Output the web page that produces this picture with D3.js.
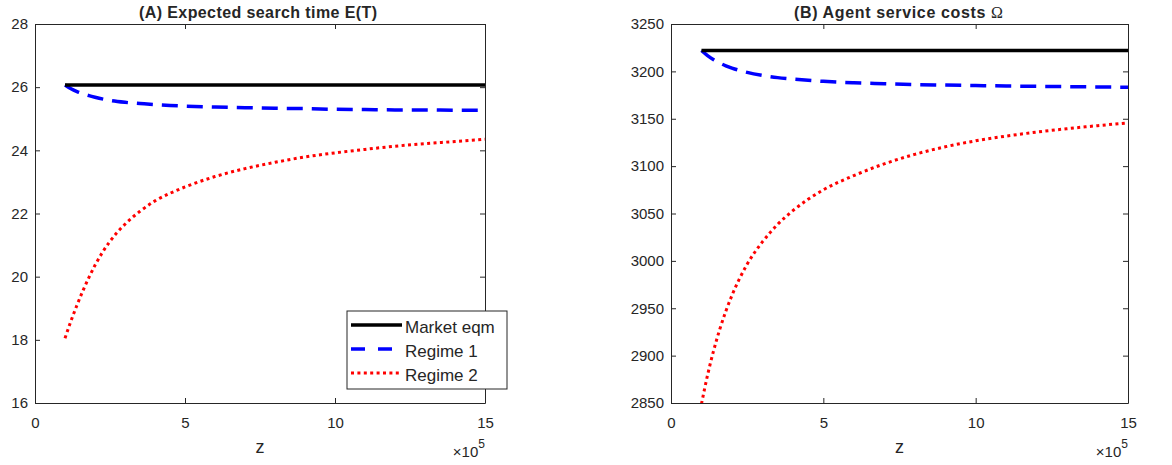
<!DOCTYPE html>
<html lang="en">
<head>
<meta charset="UTF-8">
<title>Search time and service costs</title>
<script src="https://d3js.org/d3.v7.min.js"></script>
<style>
  body { margin: 0; background: #fff; }
  svg text { font-family: "Liberation Sans", Arial, sans-serif; fill: #262626; }
</style>
</head>
<body>
<svg id="chart" width="1172" height="465"></svg>
<script>
// z in units of 10^5
const zVals = [1, 1.2, 1.4, 1.6, 1.8, 2, 2.5, 3, 3.5, 4, 4.5, 5, 6, 7, 8, 9, 10, 11, 12, 13, 14, 15];

// (A) expected search time E(T)
const marketA  = [26.07, 26.07, 26.07, 26.07, 26.07, 26.07, 26.07, 26.07, 26.07, 26.07, 26.07, 26.07, 26.07, 26.07, 26.07, 26.07, 26.07, 26.07, 26.07, 26.07, 26.07, 26.07];
const regime1A = [26.07, 25.95, 25.86, 25.79, 25.73, 25.68, 25.58, 25.52, 25.48, 25.45, 25.42, 25.40, 25.37, 25.35, 25.33, 25.32, 25.30, 25.29, 25.28, 25.28, 25.27, 25.27];
const regime2A = [18.05, 18.60, 19.10, 19.56, 19.98, 20.36, 21.12, 21.66, 22.07, 22.40, 22.64, 22.84, 23.17, 23.42, 23.62, 23.79, 23.92, 24.03, 24.13, 24.21, 24.28, 24.35];

// (B) agent service costs Omega
const marketB  = [3222, 3222, 3222, 3222, 3222, 3222, 3222, 3222, 3222, 3222, 3222, 3222, 3222, 3222, 3222, 3222, 3222, 3222, 3222, 3222, 3222, 3222];
const regime1B = [3222, 3216.6, 3212.3, 3208.8, 3205.9, 3203.5, 3198.9, 3195.7, 3193.4, 3191.9, 3190.6, 3189.5, 3188, 3187, 3186.1, 3185.5, 3185, 3184.6, 3184.2, 3183.9, 3183.6, 3183.3];
const regime2B = [2849, 2879.4, 2905.4, 2927.7, 2946.9, 2963.5, 2996.5, 3020, 3038.5, 3053, 3065, 3075, 3090, 3102.4, 3112.4, 3120.4, 3126.7, 3131.7, 3135.9, 3139.5, 3142.7, 3145.6];

const xTicks = [0, 5, 10, 15];
const yTicksA = [16, 18, 20, 22, 24, 26, 28];
const yTicksB = [2850, 2900, 2950, 3000, 3050, 3100, 3150, 3200, 3250];
const seriesNames = ["Market eqm", "Regime 1", "Regime 2"];

const svg = d3.select("#chart");
const axisColor = "#262626";

const styles = [
  { color: "#000000", width: 3.5, dash: null },
  { color: "#0000ff", width: 3.5, dash: "16,9" },
  { color: "#ff0000", width: 3, dash: "3,3.4" }
];

function drawPanel(p) {
  const x = d3.scaleLinear().domain([0, 15]).range([p.left, p.right]);
  const y = d3.scaleLinear().domain(p.yDomain).range([p.bottom, p.top]);

  const g = svg.append("g");

  g.append("clipPath").attr("id", "clip" + p.id)
    .append("rect")
    .attr("x", p.left).attr("y", p.top)
    .attr("width", p.right - p.left).attr("height", p.bottom - p.top);

  // axes, ticks inward on all four sides
  g.append("g").attr("transform", `translate(0,${p.bottom})`)
    .call(d3.axisBottom(x).tickValues(xTicks).tickSizeInner(-5).tickSizeOuter(0).tickPadding(14));
  g.append("g").attr("transform", `translate(0,${p.top})`)
    .call(d3.axisTop(x).tickValues(xTicks).tickSizeInner(-5).tickSizeOuter(0).tickFormat(""));
  g.append("g").attr("transform", `translate(${p.left},0)`)
    .call(d3.axisLeft(y).tickValues(p.yTicks).tickFormat(d3.format("d"))
      .tickSizeInner(-5).tickSizeOuter(0).tickPadding(7));
  g.append("g").attr("transform", `translate(${p.right},0)`)
    .call(d3.axisRight(y).tickValues(p.yTicks).tickSizeInner(-5).tickSizeOuter(0).tickFormat(""));

  g.selectAll(".domain").attr("stroke", axisColor).attr("stroke-width", 1);
  g.selectAll(".tick line").attr("stroke", axisColor);
  g.selectAll(".tick text").style("font-size", "15px").attr("fill", axisColor);

  const line = d3.line()
    .x((d, i) => x(zVals[i]))
    .y(d => y(d))
    .curve(d3.curveMonotoneX);

  const lines = g.append("g").attr("clip-path", `url(#clip${p.id})`);
  [2, 1, 0].forEach(k => {
    const st = styles[k];
    lines.append("path")
      .datum(p.series[k])
      .attr("fill", "none")
      .attr("stroke", st.color)
      .attr("stroke-width", st.width)
      .attr("stroke-dasharray", st.dash)
      .attr("d", line);
  });

  // title, spread to the width it has in the figure
  const title = g.append("text")
    .attr("x", p.titleLeft).attr("y", 17.5)
    .attr("textLength", p.titleWidth)
    .attr("lengthAdjust", "spacing")
    .style("font-size", "16px").style("font-weight", "bold")
    .attr("fill", "#000");
  title.append("tspan").text(p.title);
  if (p.titleSymbol) {
    title.append("tspan")
      .style("font-family", "'Liberation Serif', 'Times New Roman', serif")
      .style("font-weight", "normal")
      .text(p.titleSymbol);
  }

  // x label
  g.append("text")
    .attr("x", (p.left + p.right) / 2).attr("y", 453)
    .attr("text-anchor", "middle")
    .style("font-size", "18px")
    .text("z");

  // exponent
  const ex = g.append("text")
    .attr("x", p.right).attr("y", 457)
    .attr("text-anchor", "end")
    .style("font-size", "15px");
  ex.append("tspan").text("\u00d710");
  ex.append("tspan").attr("dy", -9).style("font-size", "12px").text("5");

  return { x, y };
}

drawPanel({
  id: "A", left: 35, right: 485, top: 24, bottom: 403,
  yDomain: [16, 28], yTicks: yTicksA,
  series: [marketA, regime1A, regime2A],
  title: "(A) Expected search time E(T)", titleLeft: 139, titleWidth: 238
});

drawPanel({
  id: "B", left: 671, right: 1128, top: 24, bottom: 403,
  yDomain: [2850, 3250], yTicks: yTicksB,
  series: [marketB, regime1B, regime2B],
  title: "(B) Agent service costs  ", titleSymbol: "\u03a9", titleLeft: 794, titleWidth: 209
});

// legend (panel A)
const legend = svg.append("g");
legend.append("rect")
  .attr("x", 347).attr("y", 311).attr("width", 160).attr("height", 78)
  .attr("fill", "#fff").attr("stroke", axisColor).attr("stroke-width", 1);

const rowY = d3.scalePoint().domain(seriesNames).range([325, 373]);
seriesNames.forEach((name, i) => {
  const st = styles[i];
  legend.append("line")
    .attr("x1", 351).attr("x2", 402)
    .attr("y1", rowY(name)).attr("y2", rowY(name))
    .attr("stroke", st.color)
    .attr("stroke-width", st.width)
    .attr("stroke-dasharray", i === 1 ? "14,13" : st.dash);
  legend.append("text")
    .attr("x", 405).attr("y", rowY(name) + 8)
    .style("font-size", "17px")
    .attr("fill", "#000")
    .text(name);
});
</script>
</body>
</html>
